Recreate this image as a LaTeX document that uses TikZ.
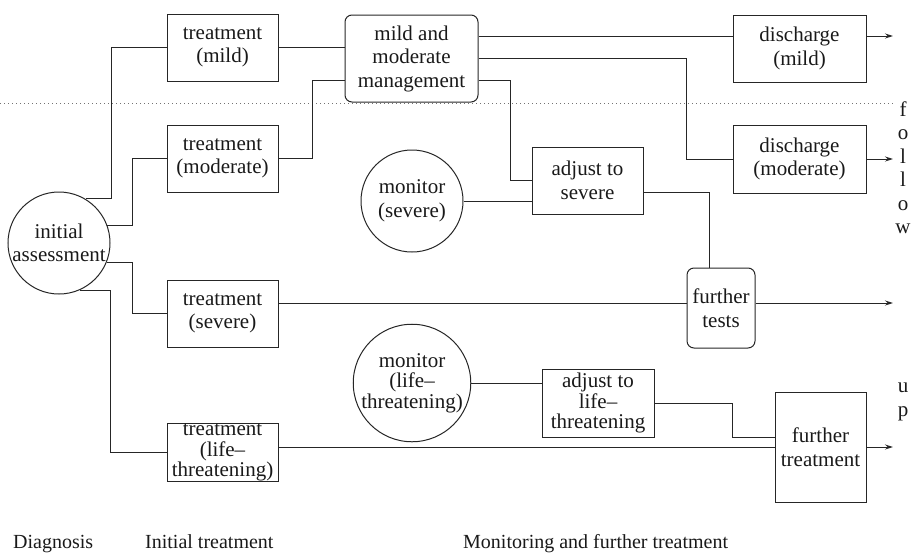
\documentclass[tikz,border=0pt]{standalone}
\usepackage{fontspec}
\setmainfont{Liberation Serif}
\usetikzlibrary{arrows.meta}
\begin{document}
\begin{tikzpicture}[x=1pt,y=-1pt,
  every node/.style={font=\fontsize{21}{23.5}\selectfont, text=black!90},
  wire/.style={draw=black!85, line width=1pt},
  outflow/.style={wire, -{Stealth[length=8pt,width=5pt]}},
  stagebox/.style={draw=black!85, line width=1pt, inner sep=0pt, align=center},
  roundbox/.style={stagebox, rounded corners=7pt},
  stateball/.style={draw=black!85, line width=1pt, circle, inner sep=0pt, align=center},
  tight/.style={font=\fontsize{21}{20.5}\selectfont},
  divider/.style={draw=black!55, line width=0.8pt, dash pattern=on 1pt off 3pt},
  stagelabel/.style={anchor=base west, inner sep=0pt, font=\fontsize{20}{23}\selectfont}]
\useasboundingbox (0,0) rectangle (915,554);

% severity divider
\coordinate (dl) at (0,103);
\coordinate (dr) at (893,103);
\draw[divider] (dl) -- (dr);

% diagnosis
\node[stateball, minimum size=102pt] (init) at (59,243) {initial\\assessment};

% initial treatment column
\node[stagebox, minimum width=111pt, minimum height=67pt] (tmild) at (222.5,47.5) {treatment\\(mild)};
\node[stagebox, minimum width=111pt, minimum height=67pt] (tmod) at (222.5,158.5) {treatment\\(moderate)};
\node[stagebox, minimum width=111pt, minimum height=67pt] (tsev) at (222.5,313.5) {treatment\\(severe)};
\node[stagebox, tight, minimum width=111pt, minimum height=57pt] (tlife) at (222.5,452.5) {treatment\\(life--\\threatening)};

% monitoring and further treatment
\node[roundbox, minimum width=133pt, minimum height=87pt] (mgmt) at (411.5,58.5) {mild and\\moderate\\management};
\node[stateball, minimum size=102pt] (monsev) at (412,201) {monitor\\(severe)};
\node[stateball, tight, minimum size=104pt] (monlife) at (412,383) {monitor\\(life--\\threatening)};
\node[stagebox, minimum width=111pt, minimum height=67pt] (adjsev) at (587.5,180.5) {adjust to\\severe};
\node[stagebox, tight, minimum width=112pt, minimum height=68pt] (adjlife) at (598,403) {adjust to\\life--\\threatening};
\node[stagebox, minimum width=133pt, minimum height=67pt] (dmild) at (799.5,48.5) {discharge\\(mild)};
\node[stagebox, minimum width=133pt, minimum height=68pt] (dmod) at (799.5,159) {discharge\\(moderate)};
\node[roundbox, minimum width=68pt, minimum height=80pt] (ftests) at (721,308) {further\\tests};
\node[stagebox, minimum width=91pt, minimum height=110pt] (ftreat) at (820.5,447) {further\\treatment};

% follow-up outlets
\coordinate (o1) at (893,36);
\coordinate (o2) at (893,159);
\coordinate (o3) at (893,303);
\coordinate (o4) at (893,447);

% diagnosis to initial treatment
\draw[wire] (init.59) -| ([xshift=-55pt]tmild.west) -- (tmild.west);
\draw[wire] (init.20) -| ([xshift=-34pt]tmod.west) -- (tmod.west);
\draw[wire] (init.-22) -| ([xshift=-34pt]tsev.west) -- (tsev.west);
\draw[wire] (init.-66) -| ([xshift=-56pt]tlife.west) -- (tlife.west);

% mild and moderate path
\draw[wire] (tmild.east) -- (tmild.east -| mgmt.west);
\draw[wire] (tmod.east) -- ++(34,0) |- ([yshift=-21.5pt]mgmt.west);
\draw[wire] ([yshift=22.5pt]mgmt.east) -- ([yshift=22.5pt]mgmt.east -| dmild.west);
\draw[wire] (mgmt.east) -| ([xshift=-46pt]dmod.west) -- (dmod.west);
\draw[wire] ([yshift=-21.5pt]mgmt.east) -| ([xshift=-21pt]adjsev.west) -- (adjsev.west);

% severe path
\draw[wire] (monsev.east) -- (monsev.east -| adjsev.west);
\draw[wire] ([yshift=-11.5pt]adjsev.east) -| ([xshift=-12pt]ftests.north);
\draw[wire] ([yshift=10.5pt]tsev.east) -- ([yshift=10.5pt]tsev.east -| ftests.west);

% life-threatening path
\draw[wire] (monlife.east) -- (monlife.east -| adjlife.west);
\draw[wire] (adjlife.east) -| ([xshift=-42pt,yshift=10pt]ftreat.west) -- ([yshift=10pt]ftreat.west);
\draw[wire] ([yshift=5.5pt]tlife.east) -- ([yshift=5.5pt]tlife.east -| ftreat.west);

% outlets to follow-up
\draw[outflow] (dmild.east |- o1) -- (o1);
\draw[outflow] (dmod.east |- o2) -- (o2);
\draw[outflow] (ftests.east |- o3) -- (o3);
\draw[outflow] (ftreat.east |- o4) -- (o4);

% vertical follow-up caption
\node[anchor=north, align=center] (fol) at (903,98) {f\\o\\l\\l\\o\\w};
\node[anchor=north, align=center, font=\fontsize{21}{24}\selectfont] (up) at (903,379) {u\\p};

% stage captions
\node[stagelabel] (capdiag) at (13,548) {Diagnosis};
\node[stagelabel] (capinit) at (145,548) {Initial treatment};
\node[stagelabel] (capmon) at (463,548) {Monitoring and further treatment};
\end{tikzpicture}
\end{document}
